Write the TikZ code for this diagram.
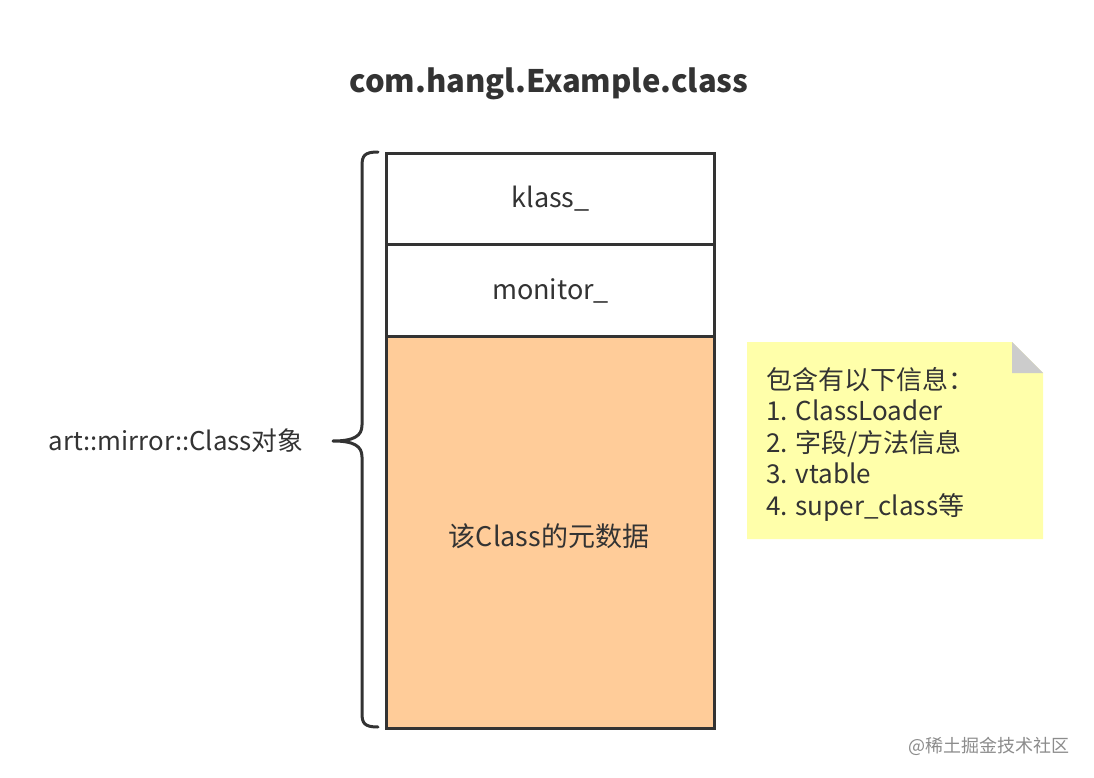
\documentclass[tikz,border=0pt]{standalone}
\usepackage{fontspec}
\setmainfont{Noto Sans CJK SC}
\begin{document}
\begin{tikzpicture}[x=1pt,y=-1pt,
  cell/.style={draw=edge,line width=3pt,minimum width=328pt,anchor=north west,inner sep=0pt,font=\fontsize{27}{32}\selectfont,text=txt},
  lbl/.style={font=\fontsize{25.8}{30}\selectfont,text=txt},
]
\definecolor{edge}{HTML}{333333}
\definecolor{txt}{HTML}{333333}
\definecolor{meta}{HTML}{FFCC99}
\definecolor{notey}{HTML}{FFFFAA}
\definecolor{fold}{HTML}{CCCCCC}
\useasboundingbox (0,0) rectangle (1094,778);
\fill[white] (0,0) rectangle (1094,778);
\node[font=\bfseries\fontsize{31}{37}\selectfont,text=txt] (title) at (549,84) {com.hangl.Example.class};
\node[cell,minimum height=91pt] (klass) at (385,152) {klass\_};
\node[cell,minimum height=92pt] (monitor) at (385,243) {monitor\_};
\node[cell,fill=meta,minimum height=392pt] (meta) at (385,335) {};
\node[font=\fontsize{27}{32}\selectfont,text=txt] (metatext) at (549,536) {该Class的元数据};
\draw[edge,line width=3pt,line cap=round,line join=round]
  (378,152) .. controls (364,152) and (362,156) .. (362,166)
  -- (362,425) .. controls (362,436) and (354,441) .. (333,441)
  .. controls (354,441) and (362,446) .. (362,457)
  -- (362,713) .. controls (362,723) and (364,727) .. (378,727);
\coordinate (tip) at (333,441);
\node[lbl,anchor=east] (objlabel) at (307,441) {art::mirror::Class对象};
% note
\fill[notey] (747,342) -- (1012,342) -- (1043,373) -- (1043,539) -- (747,539) -- cycle;
\fill[fold] (1012,342) -- (1043,373) -- (1012,373) -- cycle;
\node[anchor=north west,align=left,inner sep=0pt,font=\fontsize{26}{31.5}\selectfont,text=txt] (note) at (766,367)
  {包含有以下信息：\\1. ClassLoader\\2. 字段/方法信息\\3. vtable\\4. super\_class等};
\node[anchor=east,font=\fontsize{18}{22}\selectfont,text=black!45] (wm) at (1073,746) {@稀土掘金技术社区};
\end{tikzpicture}
\end{document}
